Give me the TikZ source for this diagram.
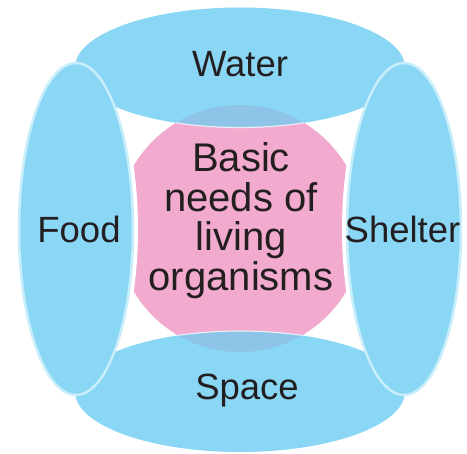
\documentclass[tikz,border=0pt]{standalone}
\usepackage{fontspec}
\setmainfont{Liberation Sans}
\usetikzlibrary{positioning}

\definecolor{needblue}{RGB}{138,214,245}
\definecolor{needpink}{RGB}{242,171,206}
\definecolor{overlapblue}{RGB}{141,196,232}
\definecolor{rimcyan}{RGB}{200,238,252}
\definecolor{inkblack}{RGB}{35,31,32}

\begin{document}
\begin{tikzpicture}[x=1pt,y=-1pt,
  need label/.style={font=\fontsize{36.5}{40}\selectfont, text=inkblack, anchor=base, inner sep=0pt},
  centre label/.style={font=\fontsize{40}{39.5}\selectfont, text=inkblack, align=center, inner sep=0pt},
  side body/.style={fill=needblue, draw=rimcyan, line width=2.5pt}]
% Frame
\fill[white] (0,0) rectangle (467,454);
\useasboundingbox (0,0) rectangle (467,454);

% Centre disc
\fill[needpink] (240,228.5) circle (123.5);

% Water and Space
\fill[needblue] (240,67.5) ellipse [x radius=165, y radius=60];
\fill[needblue] (240,391.5) ellipse [x radius=165, y radius=60.5];

% Disc seen through Water and Space, white gap beside Food and Shelter
\begin{scope}
\clip (240,228.5) circle (123.5);
\fill[overlapblue] (240,67.5) ellipse [x radius=165, y radius=60];
\fill[overlapblue] (240,391.5) ellipse [x radius=165, y radius=60.5];
\draw[white, opacity=0.7, line width=1.2pt] (240,67.5) ellipse [x radius=165, y radius=60];
\draw[white, opacity=0.7, line width=1.2pt] (240,391.5) ellipse [x radius=165, y radius=60.5];
\fill[white] (76,229) ellipse [x radius=62, y radius=170];
\fill[white] (404,229) ellipse [x radius=62, y radius=170];
\end{scope}

% Food and Shelter
\path[side body] (76,229) ellipse [x radius=57, y radius=166];
\path[side body] (404,229) ellipse [x radius=57, y radius=166];

% Labels
\node[need label] (water) at (240,77) {Water};
\node[need label] (space) at (247,400) {Space};
\node[need label] (food) at (79,243) {Food};
\node[need label] (shelter) at (402.5,243) {Shelter};
\node[centre label] (needs) at (241,220.7) {Basic\\needs of\\living\\organisms};

\end{tikzpicture}
\end{document}
